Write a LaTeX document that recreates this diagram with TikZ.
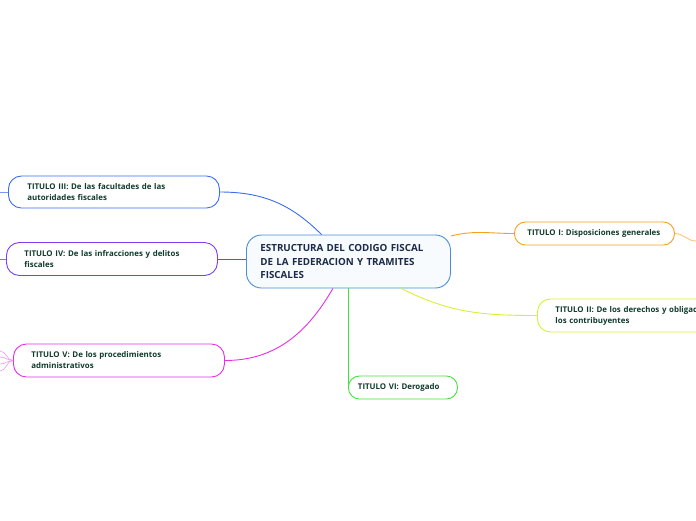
\documentclass[tikz,border=0pt]{standalone}
\usepackage{fontspec}
\setmainfont{Open Sans}
\usepackage{tikz}
\usetikzlibrary{positioning,calc}
\usepackage{xcolor}
\definecolor{mainblue}{HTML}{4A8FD6}
\definecolor{mainfill}{HTML}{F8FBFD}
\definecolor{mainink}{HTML}{1B2A4A}
\definecolor{leafink}{HTML}{0F3B2C}
\definecolor{c1}{HTML}{F5A020}
\definecolor{c2}{HTML}{D8F030}
\definecolor{c3}{HTML}{3A6DF0}
\definecolor{c4}{HTML}{7B3FF2}
\definecolor{c5}{HTML}{E62EE6}
\definecolor{c6}{HTML}{48E040}

\begin{document}
\begin{tikzpicture}[x=1pt, y=-1pt,
    central/.style={rectangle, draw=mainblue, fill=mainfill, line width=0.9pt,
        rounded corners=15pt, align=left, text width=176pt, inner xsep=14pt,
        minimum height=53pt, text=mainink,
        font=\fontsize{9.8}{13.5}\selectfont\bfseries},
    titulo/.style={rectangle, draw, fill=white, line width=0.9pt,
        rounded corners=13pt, align=left, text=leafink,
        font=\fontsize{7.9}{11}\selectfont\bfseries},
    line/.style={draw, line width=0.9pt}]

    \clip (0,0) rectangle (696,520);

    % ====== Central topic ======
    \node [central, anchor=west] (main) at (246,261.5)
        {ESTRUCTURA DEL CODIGO FISCAL\\DE LA FEDERACION Y TRAMITES\\FISCALES};

    % ====== Left branches ======
    \node [titulo, draw=c3, anchor=west, text width=173pt, inner xsep=19pt,
        minimum height=32pt] (t3) at (8,192)
        {TITULO III: De las facultades de las\\autoridades fiscales};
    \node [titulo, draw=c4, anchor=west, text width=175pt, inner xsep=18pt,
        minimum height=33pt] (t4) at (6,259)
        {TITULO IV: De las infracciones y delitos\\fiscales};
    \node [titulo, draw=c5, anchor=west, text width=175pt, inner xsep=18pt,
        minimum height=33pt] (t5) at (13,360.5)
        {TITULO V: De los procedimientos\\administrativos};

    % ====== Right branches ======
    \node [titulo, draw=c1, anchor=west, text width=134pt, inner xsep=13pt,
        minimum height=23pt, rounded corners=11pt] (t1) at (514,233.5)
        {TITULO I: Disposiciones generales};
    \node [titulo, draw=c2, anchor=west, text width=220pt, inner xsep=18pt,
        minimum height=33pt] (t2) at (537,315.5)
        {TITULO II: De los derechos y obligaciones de\\los contribuyentes};
    \node [titulo, draw=c6, anchor=west, text width=90pt, inner xsep=9.5pt,
        minimum height=23pt, rounded corners=11pt] (t6) at (348,387.5)
        {TITULO VI: Derogado};

    % ====== Free ends of sub-branches ======
    \coordinate (s3) at (0,192);
    \coordinate (s4) at (0,259);
    \coordinate (s1) at (696,241);
    \coordinate (s5a) at (0,351);
    \coordinate (s5b) at (0,357);
    \coordinate (s5c) at (0,364);
    \coordinate (s5d) at (0,371);

    % ====== Lines ======
    \path [line, c3] (main) to[out=135, in=0] (t3.east);
    \path [line, c4] (t4.east -| main.west) -- (t4.east);
    \path [line, c5] (main) to[out=240, in=0] (t5.east);
    \path [line, c1] (main) to[out=14, in=180] (t1.west);
    \path [line, c2] (main) to[out=-27, in=180] (t2.west);
    \path [line, c6] (main.south) -- (main.south |- t6.west);

    \path [line, c3!70] (t3.west) -- (s3);
    \path [line, c4!80] (t4.west) -- (s4);
    \path [line, c1!60] (t1.east) to[out=0, in=180] (s1);
    \foreach \s in {s5a,s5b,s5c,s5d}
        \path [line, c5!50, line width=0.6pt] (t5.west) to[out=180, in=0] (\s);
\end{tikzpicture}
\end{document}
